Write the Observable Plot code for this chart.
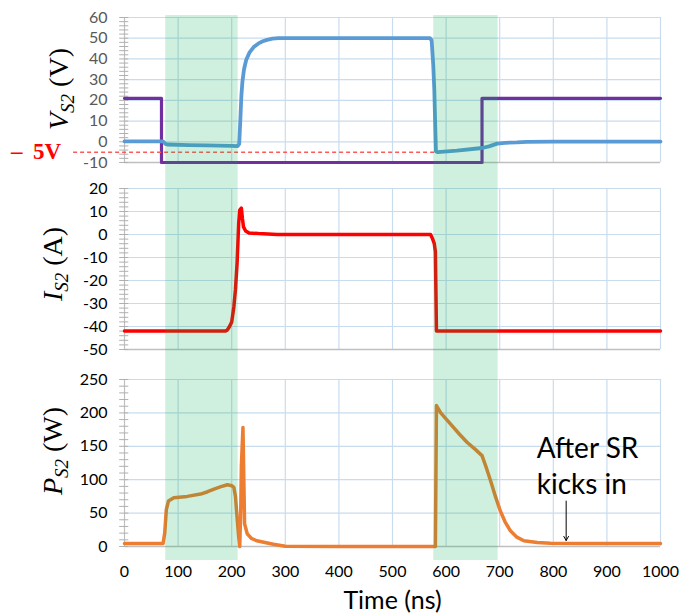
<!DOCTYPE html>
<html>
<head>
<meta charset="utf-8">
<script src="https://cdn.jsdelivr.net/npm/d3@7"></script>
<script src="https://cdn.jsdelivr.net/npm/@observablehq/plot@0.6"></script>
<style>
  html, body { margin: 0; padding: 0; background: white; }
  #chart svg { display: block; }
</style>
</head>
<body>
<div id="chart"></div>
<script>
// ---------- data ----------
const xTicks = [0, 100, 200, 300, 400, 500, 600, 700, 800, 900, 1000];
const vTicks = [-10, 0, 10, 20, 30, 40, 50, 60];
const iTicks = [-50, -40, -30, -20, -10, 0, 10, 20];
const pTicks = [0, 50, 100, 150, 200, 250];
const vMinor = d3.range(-10, 61, 2);
const iMinor = d3.range(-50, 21, 2);
const pMinor = d3.range(0, 251, 10);

// shaded intervals (ns)
const shadeStart = [77, 577];
const shadeEnd = [212, 697];

// V_S2 (blue)
const vsT = [0, 72, 76, 80, 120, 154, 200, 211, 214, 216, 218, 220, 223, 227, 233, 241, 250, 258, 266, 276, 287, 300, 400, 500, 570, 573, 576, 578, 580, 581, 584, 620, 667, 680, 695, 710, 732, 750, 800, 900, 1000];
const vsV = [0.2, 0.2, -1.0, -1.3, -1.6, -1.7, -2.0, -2.1, -1.0, 10, 22, 29, 35, 39.5, 43, 45.7, 47.5, 48.5, 49.2, 49.8, 50, 50, 50, 50, 50, 49, 37, 25, 5, -4.5, -5, -4.3, -3.0, -2.2, -0.9, -0.5, -0.3, 0, 0.1, 0.1, 0.1];
// gate-side trace (purple)
const vgT = [0, 69, 69, 667, 667, 1000];
const vgV = [21, 21, -10, -10, 21, 21];
// -5 V reference line
const refV = [-5];
const refT = [-95, 585];

// I_S2 (red)
const isT = [0, 188, 192, 196, 200, 204, 207, 210, 213, 215, 218, 220, 222, 226, 232, 250, 285, 571, 575, 578, 580, 582, 1000];
const isA = [-42, -42, -41.5, -40, -38, -31.5, -24, -12.6, 4.8, 10.6, 11.5, 7, 3.3, 1.5, 0.7, 0.4, 0, 0, -2, -4, -7.5, -42, -42];

// P_S2 (orange)
const psT = [0, 72, 75, 78, 82, 92, 117, 142, 155, 167, 180, 192, 200, 204, 207, 210, 213, 215, 217, 218, 221, 224, 229, 237, 247, 262, 278, 300, 400, 500, 578, 580, 582, 590, 608, 625, 639, 655, 667, 675, 683, 692, 701, 710, 720, 732, 745, 770, 795, 850, 1000];
const psW = [4.5, 4.5, 20, 55, 68, 73, 75, 78.5, 82, 86, 89.5, 92.5, 91, 88.5, 75, 43.5, 15, 0, 60, 120, 178, 34, 19, 12, 8.5, 6, 3.5, 0.5, 0, 0, 0, 0, 211, 200, 183.5, 168, 156, 145, 136, 118, 98.5, 75, 53.5, 37, 23.5, 14, 8.5, 6, 5, 4.5, 4.5];

const annotText = ["After SR\nkicks in"];
const annotAt = {t: 769, w: 171};
const arrowT = [824];
const arrowW = [68, 9];

// ---------- helpers ----------
const zip = (t, v) => t.map((x, i) => ({t: x, v: v[i]}));
const shade = shadeStart.map((s, i) => ({a: s, b: shadeEnd[i]}));
const gridColor = "#c9dcee";
const axisGray = "#bfbfbf";
const tickGray = "#b0b0b0";
const shadeFill = "#00b050";
const W = 691, ML = 124, MR = 31;

function base(yTicks, yMinor, yMin) {
  return [
    Plot.ruleX(xTicks.filter(d => d > 0), {x: d => d, stroke: gridColor, strokeWidth: 1.2}),
    Plot.ruleY(yTicks.filter(d => d > yMin), {y: d => d, stroke: gridColor, strokeWidth: 1.2}),
    Plot.ruleY([yMin], {stroke: axisGray, strokeWidth: 1.5}),
    Plot.ruleX([0], {stroke: axisGray, strokeWidth: 1.2}),
    Plot.ruleY(yMinor, {y: d => d, x1: -9, x2: 8, stroke: tickGray, strokeWidth: 1}),
    Plot.axisY(yTicks, {tickSize: 0, tickPadding: 17, label: null, tickFormat: d => String(d)})
  ];
}
function shadeMark(top, bottom) {
  return Plot.rect(shade, {x1: "a", x2: "b", fill: shadeFill, fillOpacity: 0.19, insetTop: -top, insetBottom: -bottom});
}
function yLabel(svg, x, y, main, unit) {
  const t = d3.select(svg).append("text")
    .attr("transform", `translate(${x},${y}) rotate(-90)`)
    .attr("text-anchor", "middle")
    .attr("font-family", "Liberation Serif, serif")
    .attr("font-size", 28)
    .attr("fill", "black");
  t.append("tspan").attr("font-style", "italic").text(main);
  t.append("tspan").attr("font-style", "italic").attr("font-size", 19).attr("dy", 6).text("S2");
  t.append("tspan").attr("dy", -6).text(" (" + unit + ")");
}

// ---------- panel 1 ----------
const p1 = Plot.plot({
  width: W, height: 175, marginLeft: ML, marginRight: MR, marginTop: 17, marginBottom: 13,
  style: {fontFamily: "Lato, sans-serif", fontSize: "16px", color: "#595959", background: "white"},
  x: {domain: [0, 1000], axis: null},
  y: {domain: [-10, 60]},
  marks: [
    ...base(vTicks, vMinor, -10),
    Plot.line(zip(vgT, vgV), {x: "t", y: "v", stroke: "#7030a0", strokeWidth: 3.2}),
    Plot.line(zip(vsT, vsV), {x: "t", y: "v", stroke: "#5b9bd5", strokeWidth: 3.8, strokeLinejoin: "round"}),
    Plot.ruleY(refV, {y: d => d, x1: refT[0], x2: refT[1], stroke: "#ff5a5a", strokeWidth: 1.5, strokeDasharray: "4,3"}),
    shadeMark(2, 13)
  ]
});
yLabel(p1, 68, 89, "V", "V");
const m5 = d3.select(p1).append("text")
  .attr("y", 159)
  .attr("text-anchor", "start")
  .attr("font-family", "Liberation Serif, serif")
  .attr("font-weight", "bold").attr("font-size", 23)
  .attr("fill", "#ff0000");
m5.append("tspan").attr("x", 11).text("–");
m5.append("tspan").attr("x", 33).text("5V");

// ---------- panel 2 ----------
const p2 = Plot.plot({
  width: W, height: 190, marginLeft: ML, marginRight: MR, marginTop: 13, marginBottom: 16,
  style: {fontFamily: "Lato, sans-serif", fontSize: "16px", color: "black", background: "white"},
  x: {domain: [0, 1000], axis: null},
  y: {domain: [-50, 20]},
  marks: [
    ...base(iTicks, iMinor, -50),
    Plot.line(zip(isT, isA), {x: "t", y: "v", stroke: "#ff0000", strokeWidth: 3.5, strokeLinejoin: "round"}),
    shadeMark(13, 16)
  ]
});
yLabel(p2, 62, 89, "I", "A");

// ---------- panel 3 ----------
const p3 = Plot.plot({
  width: W, height: 250, marginLeft: ML, marginRight: MR, marginTop: 14, marginBottom: 69,
  style: {fontFamily: "Lato, sans-serif", fontSize: "16px", color: "black", background: "white"},
  x: {domain: [0, 1000]},
  y: {domain: [0, 250]},
  marks: [
    ...base(pTicks, pMinor, 0),
    Plot.axisX(xTicks, {tickSize: 0, tickPadding: 19, tickFormat: d => String(d), label: null}),
    Plot.text(["Time (ns)"], {frameAnchor: "bottom", dy: 62, fontSize: 25, fill: "black"}),
    Plot.line(zip(psT, psW), {x: "t", y: "v", stroke: "#ed7d31", strokeWidth: 3.5, strokeLinejoin: "round"}),
    Plot.text(annotText, {x: annotAt.t, y: annotAt.w, textAnchor: "start", lineAnchor: "top", lineHeight: 1.29, fontSize: 28, fill: "black"}),
    Plot.arrow(arrowT, {x1: d => d, x2: d => d, y1: arrowW[0], y2: arrowW[1], stroke: "black", strokeWidth: 1, headLength: 7}),
    shadeMark(14, 14)
  ]
});
yLabel(p3, 62, 86, "P", "W");

const chart = document.getElementById("chart");
chart.append(p1, p2, p3);
</script>
</body>
</html>
